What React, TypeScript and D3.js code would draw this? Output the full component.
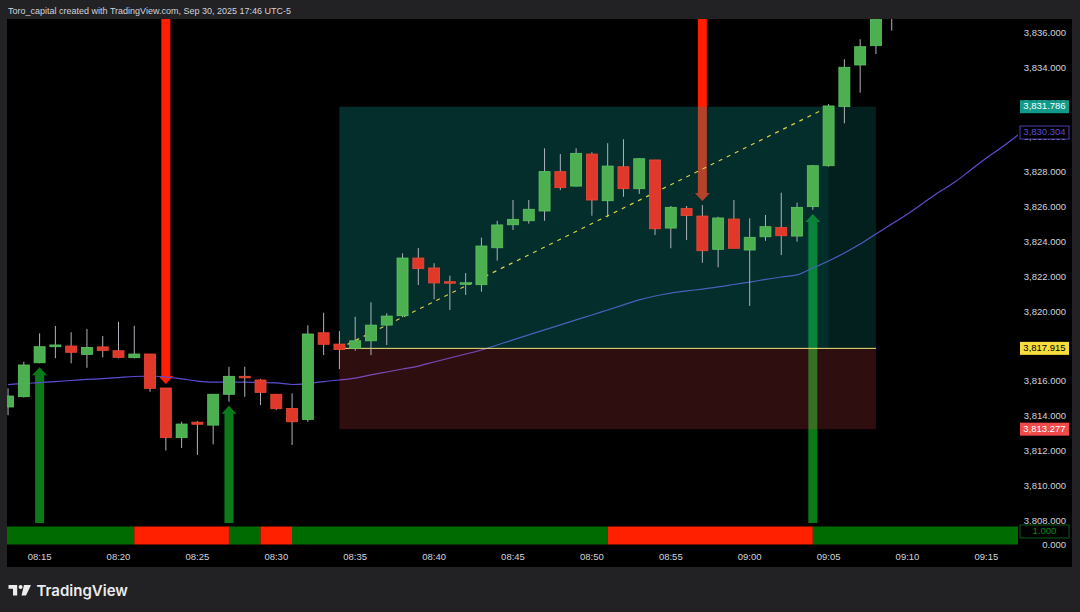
import { useEffect, useRef } from 'react';
import * as d3 from 'd3';

// 1-minute candles, first one at 08:13
const firstCandle = "08:13";
const opens = [
  3814.55, 3815.14, 3817.09, 3818.01, 3818.05, 3817.57, 3818.00, 3817.78, 3817.38, 3817.59,
  3815.64, 3812.79, 3813.68, 3813.51, 3815.28, 3816.31, 3816.10, 3815.28, 3814.47, 3813.84,
  3818.81, 3818.16, 3817.92, 3818.35, 3819.25, 3819.79, 3823.10, 3822.53, 3821.74, 3821.62,
  3821.57, 3823.69, 3825.01, 3825.24, 3825.80, 3828.06, 3827.23, 3829.07, 3826.39, 3828.34,
  3827.08, 3828.73, 3824.82, 3825.95, 3825.51, 3823.60, 3825.34, 3823.56, 3824.32, 3824.86,
  3824.36, 3826.05, 3828.40, 3831.79, 3834.18, 3835.29, 3836.95,
];
const highs = [
  3815.62, 3817.15, 3818.78, 3819.20, 3818.84, 3819.03, 3818.62, 3819.44, 3819.21, 3817.60,
  3815.64, 3813.70, 3813.74, 3815.28, 3816.86, 3816.86, 3816.16, 3815.30, 3815.33, 3819.24,
  3819.96, 3818.91, 3819.73, 3820.56, 3819.93, 3823.37, 3823.67, 3822.80, 3822.09, 3822.24,
  3824.27, 3825.24, 3826.43, 3826.43, 3829.40, 3829.07, 3829.40, 3829.17, 3829.69, 3829.92,
  3828.84, 3828.73, 3826.09, 3826.09, 3826.14, 3825.47, 3826.43, 3825.38, 3825.57, 3826.85,
  3826.28, 3828.44, 3831.94, 3834.51, 3835.66, 3837.30, 3838.40,
];
const lows = [
  3814.08, 3815.10, 3817.06, 3817.35, 3817.06, 3816.80, 3817.40, 3817.34, 3817.34, 3815.42,
  3812.05, 3812.20, 3811.80, 3812.40, 3814.85, 3815.14, 3814.66, 3814.38, 3812.37, 3813.70,
  3817.53, 3816.73, 3817.78, 3817.53, 3818.11, 3819.70, 3821.55, 3820.73, 3820.12, 3820.98,
  3821.17, 3822.95, 3824.71, 3825.07, 3825.24, 3827.00, 3827.19, 3825.53, 3825.44, 3826.62,
  3826.78, 3824.42, 3823.66, 3824.13, 3822.83, 3822.57, 3823.66, 3820.35, 3824.09, 3823.27,
  3824.04, 3825.86, 3828.34, 3830.83, 3832.59, 3834.81, 3836.15,
];
const closes = [
  3815.18, 3816.96, 3818.01, 3818.11, 3817.69, 3817.97, 3817.80, 3817.40, 3817.59, 3815.62,
  3812.79, 3813.57, 3813.56, 3815.28, 3816.31, 3816.23, 3815.39, 3814.45, 3813.70, 3818.74,
  3818.15, 3817.85, 3818.35, 3819.25, 3819.77, 3823.10, 3822.49, 3821.67, 3821.66, 3821.68,
  3823.79, 3825.00, 3825.32, 3825.90, 3828.06, 3827.14, 3829.11, 3826.43, 3828.38, 3827.08,
  3828.80, 3824.78, 3826.01, 3825.54, 3823.52, 3825.40, 3823.66, 3824.29, 3824.90, 3824.38,
  3826.01, 3828.40, 3831.83, 3834.05, 3835.23, 3836.95, 3838.00,
];

// moving average, one value per minute from 08:13
const maValues = [
  3815.83, 3815.90, 3815.95, 3816.01, 3816.07, 3816.13, 3816.18, 3816.24, 3816.30, 3816.33,
  3816.27, 3816.16, 3816.04, 3815.98, 3815.98, 3815.98, 3815.95, 3815.93, 3815.84, 3815.90,
  3816.01, 3816.10, 3816.21, 3816.39, 3816.56, 3816.73, 3816.90, 3817.13, 3817.36, 3817.59,
  3817.82, 3818.11, 3818.40, 3818.69, 3818.98, 3819.26, 3819.55, 3819.83, 3820.12, 3820.41,
  3820.70, 3820.92, 3821.09, 3821.21, 3821.32, 3821.44, 3821.58, 3821.72, 3821.87, 3822.01,
  3822.13, 3822.53, 3822.93, 3823.39, 3823.90, 3824.48, 3825.05, 3825.63, 3826.26, 3826.89,
  3827.46, 3828.15, 3828.84, 3829.47, 3830.16,
];
const maLast = 3830.304;

const signals = [
  { time: "08:15", dir: "up" },
  { time: "08:23", dir: "down" },
  { time: "08:27", dir: "up" },
  { time: "08:57", dir: "down" },
  { time: "09:04", dir: "up" },
];

// lower pane trend state
const trendRuns = [
  { from: "08:12", to: "08:21", state: "bull" },
  { from: "08:21", to: "08:27", state: "bear" },
  { from: "08:27", to: "08:29", state: "bull" },
  { from: "08:29", to: "08:31", state: "bear" },
  { from: "08:31", to: "08:51", state: "bull" },
  { from: "08:51", to: "09:04", state: "bear" },
  { from: "09:04", to: "09:18", state: "bull" },
];

const timeTicks = ["08:15", "08:20", "08:25", "08:30", "08:35", "08:40", "08:45", "08:50", "08:55", "09:00", "09:05", "09:10", "09:15"];
const priceTicks = [3808, 3810, 3812, 3814, 3816, 3818, 3820, 3822, 3824, 3826, 3828, 3830, 3832, 3834, 3836];

const entryTime = "08:34";
const exitTime = "09:05";
const boxEndTime = "09:08";
const entryPrice = 3817.915;
const targetPrice = 3831.786;
const stopPrice = 3813.277;

const toDate = (s: string) => {
  const [h, m] = s.split(":").map(Number);
  return new Date(2025, 8, 30, h, m);
};

export default function App() {
  const svgRef = useRef<SVGSVGElement>(null);

  useEffect(() => {
    if (!svgRef.current) return;
    d3.select(svgRef.current).selectAll("*").remove();

    const width = 1080;
    const height = 612;
    const plot = { left: 7, right: 1018, top: 19, bottom: 524 };
    const font = "'Liberation Sans', Arial, sans-serif";
    const textColor = "#d1d4dc";

    const svg = d3.select(svgRef.current)
      .attr("width", width)
      .attr("height", height)
      .attr("viewBox", [0, 0, width, height]);

    const x = d3.scaleTime()
      .domain([toDate("08:15"), toDate("09:15")])
      .range([39.6, 986.4]);
    const y = d3.scaleLinear()
      .domain([3836, 3808])
      .range([33.3, 521.1]);

    const t0 = toDate(firstCandle);
    const candles = opens.map((o, i) => ({
      date: d3.timeMinute.offset(t0, i),
      o, h: highs[i], l: lows[i], c: closes[i],
    }));
    const ma = maValues.map((v, i) => ({ date: d3.timeMinute.offset(t0, i), v }));

    // background + panel
    svg.append("rect").attr("width", width).attr("height", height).attr("fill", "#222123");
    svg.append("rect")
      .attr("x", 7).attr("y", 19).attr("width", 1065).attr("height", 548)
      .attr("fill", "#000");

    svg.append("text")
      .attr("x", 8).attr("y", 14)
      .attr("fill", textColor)
      .style("font-family", font)
      .style("font-size", "9px")
      .text("Toro_capital created with TradingView.com, Sep 30, 2025 17:46 UTC-5");

    const defs = svg.append("defs");
    defs.append("clipPath").attr("id", "mainClip")
      .append("rect")
      .attr("x", plot.left).attr("y", plot.top)
      .attr("width", plot.right - plot.left).attr("height", plot.bottom - plot.top);
    defs.append("clipPath").attr("id", "bandClip")
      .append("rect")
      .attr("x", plot.left).attr("y", plot.bottom)
      .attr("width", plot.right - plot.left).attr("height", 30);

    const main = svg.append("g").attr("clip-path", "url(#mainClip)");

    // signal arrows
    const candleAt = (s: string) => candles.find(d => d.date.getTime() === toDate(s).getTime())!;
    signals.forEach(sig => {
      const d = candleAt(sig.time);
      const cx = x(d.date);
      const bw = 4.5, hw = 7.5, hh = 8;
      let path: string;
      let color: string;
      if (sig.dir === "up") {
        const tip = y(d.l) + 4;
        const base = plot.bottom - 1;
        color = "#0a7b18";
        path = `M${cx},${tip} L${cx + hw},${tip + hh} L${cx + bw},${tip + hh} L${cx + bw},${base} L${cx - bw},${base} L${cx - bw},${tip + hh} L${cx - hw},${tip + hh} Z`;
      } else {
        const tip = y(d.h) - 4;
        const base = plot.top;
        color = "#ff1e00";
        path = `M${cx},${tip} L${cx + hw},${tip - hh} L${cx + bw},${tip - hh} L${cx + bw},${base} L${cx - bw},${base} L${cx - bw},${tip - hh} L${cx - hw},${tip - hh} Z`;
      }
      main.append("path").attr("d", path).attr("fill", color);
    });

    // moving average
    main.append("path")
      .datum(ma)
      .attr("fill", "none")
      .attr("stroke", "#5b4dd3")
      .attr("stroke-width", 1.2)
      .attr("d", d3.line<{ date: Date; v: number }>()
        .x(d => x(d.date))
        .y(d => y(d.v))
        .curve(d3.curveMonotoneX));

    // long position tool
    const xe = x(toDate(entryTime));
    const xx = x(toDate(exitTime));
    const xb = x(toDate(boxEndTime));
    main.append("rect")
      .attr("x", xe).attr("y", y(targetPrice))
      .attr("width", xb - xe).attr("height", y(entryPrice) - y(targetPrice))
      .attr("fill", "rgba(16,150,140,0.21)");
    main.append("rect")
      .attr("x", xe).attr("y", y(targetPrice))
      .attr("width", xx - xe).attr("height", y(entryPrice) - y(targetPrice))
      .attr("fill", "rgba(16,150,140,0.12)");
    main.append("rect")
      .attr("x", xe).attr("y", y(entryPrice))
      .attr("width", xb - xe).attr("height", y(stopPrice) - y(entryPrice))
      .attr("fill", "rgba(235,70,80,0.2)");
    main.append("line")
      .attr("x1", xe).attr("x2", xb)
      .attr("y1", y(entryPrice)).attr("y2", y(entryPrice))
      .attr("stroke", "#f2e27a").attr("stroke-width", 1);
    main.append("line")
      .attr("x1", xe).attr("y1", y(entryPrice))
      .attr("x2", xx).attr("y2", y(targetPrice))
      .attr("stroke", "#d8cf4a").attr("stroke-width", 1.2)
      .attr("stroke-dasharray", "4,5");

    // candles
    const bodyW = 11;
    const cg = main.selectAll("g.candle")
      .data(candles)
      .join("g")
      .attr("class", "candle");
    cg.append("line")
      .attr("x1", d => x(d.date)).attr("x2", d => x(d.date))
      .attr("y1", d => y(d.h)).attr("y2", d => y(d.l))
      .attr("stroke", "#aeb3bb").attr("stroke-width", 1);
    cg.append("rect")
      .attr("x", d => x(d.date) - bodyW / 2)
      .attr("y", d => y(Math.max(d.o, d.c)))
      .attr("width", bodyW)
      .attr("height", d => Math.max(1.5, Math.abs(y(d.o) - y(d.c))))
      .attr("fill", d => d.c >= d.o ? "#4caf50" : "#e0392b")
      .attr("stroke", d => d.c >= d.o ? "#5fc463" : "#ef4a35")
      .attr("stroke-width", 0.8);

    // price axis (drawn before the band so its bottom label is partly covered)
    const fmt = d3.format(",.3f");
    svg.append("g").selectAll("text")
      .data(priceTicks)
      .join("text")
      .attr("x", 1066)
      .attr("y", d => y(d))
      .attr("text-anchor", "end")
      .attr("dominant-baseline", "middle")
      .attr("fill", textColor)
      .style("font-family", font)
      .style("font-size", "9.5px")
      .text(d => fmt(d));

    // lower pane trend band
    svg.append("rect")
      .attr("x", plot.left).attr("y", 524.5)
      .attr("width", 1065).attr("height", 42)
      .attr("fill", "#000");
    const band = svg.append("g").attr("clip-path", "url(#bandClip)");
    band.selectAll("rect")
      .data(trendRuns)
      .join("rect")
      .attr("x", d => x(toDate(d.from)))
      .attr("width", d => x(toDate(d.to)) - x(toDate(d.from)))
      .attr("y", 526.5)
      .attr("height", 18)
      .attr("fill", d => d.state === "bull" ? "#006b00" : "#ff2000");

    // time axis
    svg.append("g").selectAll("text")
      .data(timeTicks)
      .join("text")
      .attr("x", d => x(toDate(d)))
      .attr("y", 557)
      .attr("text-anchor", "middle")
      .attr("dominant-baseline", "middle")
      .attr("fill", textColor)
      .style("font-family", font)
      .style("font-size", "9.5px")
      .text(d => d3.timeFormat("%H:%M")(toDate(d)));

    const tag = (yy: number, label: string, bg: string, fg: string, stroke?: string) => {
      const g = svg.append("g");
      g.append("rect")
        .attr("x", 1020).attr("y", yy - 6.5)
        .attr("width", 49).attr("height", 13)
        .attr("fill", bg)
        .attr("stroke", stroke ?? "none");
      g.append("text")
        .attr("x", 1044.5).attr("y", yy)
        .attr("text-anchor", "middle")
        .attr("dominant-baseline", "middle")
        .attr("fill", fg)
        .style("font-family", font)
        .style("font-size", "9.5px")
        .text(label);
    };
    tag(y(maLast), fmt(maLast), "#000", "#5b4dd3", "#4a3db4");
    tag(y(targetPrice), fmt(targetPrice), "#0f9a8a", "#ffffff");
    tag(y(entryPrice), fmt(entryPrice), "#f6dc3c", "#000000");
    tag(y(stopPrice), fmt(stopPrice), "#f04a4a", "#ffffff");
    tag(531.5, fmt(1), "#000", "#0a8a1a", "#0b5a14");
    svg.append("text")
      .attr("x", 1066).attr("y", 545)
      .attr("text-anchor", "end")
      .attr("dominant-baseline", "middle")
      .attr("fill", textColor)
      .style("font-family", font)
      .style("font-size", "9.5px")
      .text(fmt(0));

    // TradingView mark
    const logo = svg.append("g").attr("fill", "#ececec");
    logo.append("path").attr("d", "M8.5,585 H17.2 V595.5 H13 V588.8 H8.5 Z");
    logo.append("circle").attr("cx", 20.6).attr("cy", 587).attr("r", 2);
    logo.append("path").attr("d", "M24,585 H31 L26,595.5 H21.5 Z");
    svg.append("text")
      .attr("x", 36.5).attr("y", 596)
      .attr("fill", "#ececec")
      .style("font-family", "Inter, sans-serif")
      .style("font-weight", "600")
      .style("font-size", "15px")
      .text("TradingView");
  }, []);

  return (
    <div style={{ position: "fixed", left: 0, top: 0 }}>
      <svg ref={svgRef}></svg>
    </div>
  );
}
